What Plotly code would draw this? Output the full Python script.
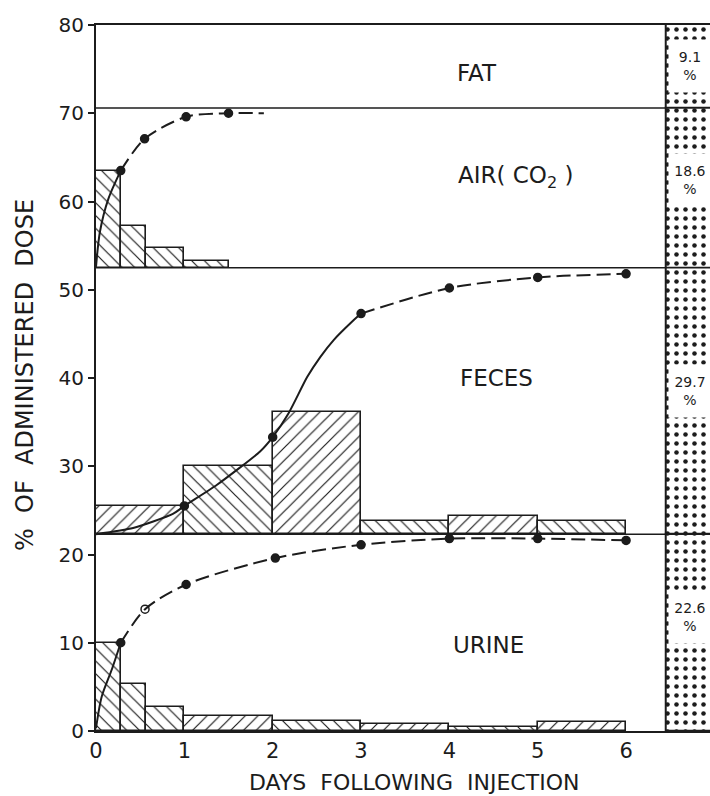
import plotly.graph_objects as go

# ---------------- data ----------------
day_ticks = [0, 1, 2, 3, 4, 5, 6]
dose_ticks = [0, 10, 20, 30, 40, 50, 60, 70, 80]

compartment_names = ["URINE", "FECES", "AIR( CO<sub>2</sub> )", "FAT"]
compartment_pct = ["22.6", "29.7", "18.6", "9.1"]
compartment_bounds = [0.0, 22.3, 52.5, 70.6, 80.0]

# URINE (relative to its band baseline)
urine_edges = [0, 0.28, 0.57, 1, 2, 3, 4, 5, 6]
urine_rate = [10.0, 5.3, 2.7, 1.7, 1.1, 0.85, 0.45, 1.0]
urine_cum_days = [0.28, 0.555, 1.02, 2.03, 3.0, 4.0, 5.0, 6.0]
urine_cum = [10.0, 13.8, 16.6, 19.6, 21.1, 21.8, 21.8, 21.6]
urine_rise_days = [0, 0.065, 0.18, 0.28]
urine_rise = [0.3, 3.9, 7.0, 10.0]

# FECES
feces_edges = [0, 1, 2, 3, 4, 5, 6]
feces_rate = [3.2, 7.7, 13.8, 1.5, 2.1, 1.5]
feces_cum_days = [1, 2, 3, 4, 5, 6]
feces_cum = [3.2, 11.0, 25.0, 27.9, 29.1, 29.5]
feces_rise_days = [0, 0.42, 0.87, 1.0, 1.37, 1.86, 2.0, 2.18, 2.39, 2.54, 2.69, 2.9, 3.0]
feces_rise = [0.0, 0.7, 2.3, 3.2, 5.6, 9.4, 11.0, 13.7, 17.8, 20.1, 22.0, 24.1, 25.0]

# AIR (CO2)
air_edges = [0, 0.28, 0.57, 1.0, 1.5]
air_rate = [11.0, 4.7, 2.2, 0.8]
air_cum_days = [0.28, 0.55, 1.02, 1.5]
air_cum = [11.0, 14.6, 17.1, 17.5]
air_rise_days = [0, 0.045, 0.14, 0.28]
air_rise = [0.1, 4.1, 7.8, 11.0]
air_tail_days = [1.5, 1.9]
air_tail = [17.5, 17.5]

# ---------------- styling ----------------
FONT = "DejaVu Sans"
INK = "#1c1c1c"
urine_hatch = ["\\", "\\", "\\", "/", "\\", "/", "\\", "/"]
feces_hatch = ["/", "\\", "/", "\\", "/", "\\"]
air_hatch = ["\\", "\\", "\\", "\\"]
urine_symbols = ["circle", "circle-open", "circle", "circle", "circle", "circle", "circle", "circle"]

x_max = 6.95
sep_x = 6.45

fig = go.Figure()


def hist(edges, rates, base, shapes):
    centers = [(a + b) / 2 for a, b in zip(edges[:-1], edges[1:])]
    widths = [b - a for a, b in zip(edges[:-1], edges[1:])]
    fig.add_trace(go.Bar(
        x=centers, y=rates, width=widths, base=base,
        marker=dict(color="white", line=dict(color=INK, width=1.6),
                    pattern=dict(shape=shapes, fgcolor=INK, bgcolor="white",
                                 size=9, solidity=0.13, fillmode="replace")),
        showlegend=False, hoverinfo="skip"))


def curve(xs, ys, base, dash, smoothing=0.8):
    fig.add_trace(go.Scatter(
        x=xs, y=[base + v for v in ys], mode="lines",
        line=dict(color=INK, width=2, shape="spline", smoothing=smoothing, dash=dash),
        showlegend=False, hoverinfo="skip"))


def points(xs, ys, base, symbols="circle"):
    fig.add_trace(go.Scatter(
        x=xs, y=[base + v for v in ys], mode="markers",
        marker=dict(size=8, color=INK, symbol=symbols, line=dict(color=INK, width=1.5)),
        showlegend=False, hoverinfo="skip"))


b_urine, b_feces, b_air, b_fat = compartment_bounds[:4]

# stippled summary column
fig.add_trace(go.Bar(
    x=[sep_x + 0.5] * 4,
    y=[compartment_bounds[i + 1] - compartment_bounds[i] for i in range(4)],
    base=compartment_bounds[:4], width=[1.0] * 4,
    marker=dict(color="white", line=dict(color=INK, width=1.2),
                pattern=dict(shape=".", fgcolor=INK, bgcolor="white",
                             size=9, solidity=0.2, fillmode="replace")),
    showlegend=False, hoverinfo="skip"))

hist(urine_edges, urine_rate, b_urine, urine_hatch)
hist(feces_edges, feces_rate, b_feces, feces_hatch)
hist(air_edges, air_rate, b_air, air_hatch)

curve(urine_rise_days, urine_rise, b_urine, "solid")
curve(urine_cum_days, urine_cum, b_urine, "14px,6px")
points(urine_cum_days, urine_cum, b_urine, urine_symbols)

curve(feces_rise_days, feces_rise, b_feces, "solid", smoothing=0.6)
curve(feces_cum_days[2:], feces_cum[2:], b_feces, "14px,6px")
points(feces_cum_days, feces_cum, b_feces)

curve(air_rise_days, air_rise, b_air, "solid")
curve(air_cum_days + air_tail_days[1:], air_cum + air_tail[1:], b_air, "14px,6px")
points(air_cum_days, air_cum, b_air)

shapes = []
for yb in compartment_bounds[1:4]:
    shapes.append(dict(type="line", xref="paper", x0=0, x1=1, yref="y", y0=yb, y1=yb,
                       line=dict(color=INK, width=1.6)))
shapes.append(dict(type="line", xref="x", x0=sep_x, x1=sep_x, yref="y", y0=0, y1=80,
                   line=dict(color=INK, width=1.8)))

annotations = []
label_pos = [(4.44, 9.8), (4.53, 40.0), (4.75, 62.8), (4.31, 74.6)]
for name, (lx, ly) in zip(compartment_names, label_pos):
    annotations.append(dict(x=lx, y=ly, xref="x", yref="y", text=name, showarrow=False,
                            xanchor="center", yanchor="middle",
                            font=dict(family=FONT, size=23, color=INK)))

pct_offsets = [1.8, 1.1, 0.9, 0.0]
for i, (pct, off) in enumerate(zip(compartment_pct, pct_offsets)):
    mid = (compartment_bounds[i] + compartment_bounds[i + 1]) / 2 + off
    annotations.append(dict(x=6.72, y=mid, xref="x", yref="y", text=pct + "<br>%",
                            showarrow=False, bgcolor="white", width=40, height=50,
                            align="center", xanchor="center", yanchor="middle",
                            font=dict(family=FONT, size=14, color=INK)))

annotations.append(dict(xref="paper", yref="paper", x=(25 - 96) / 614, y=(731 - 375) / 706,
                        xanchor="center", yanchor="middle",
                        text="%  OF  ADMINISTERED  DOSE", textangle=-90, showarrow=False,
                        font=dict(family=FONT, size=24, color=INK)))
annotations.append(dict(xref="paper", yref="paper", x=(414 - 96) / 614, y=(731 - 782) / 706,
                        xanchor="center", yanchor="middle",
                        text="DAYS  FOLLOWING  INJECTION", showarrow=False,
                        font=dict(family=FONT, size=22, color=INK)))

fig.update_layout(
    width=710, height=796,
    margin=dict(l=96, r=0, t=25, b=65),
    paper_bgcolor="white", plot_bgcolor="white",
    barmode="overlay", bargap=0,
    showlegend=False,
    shapes=shapes, annotations=annotations,
    xaxis=dict(range=[0, x_max], tickvals=day_ticks, ticktext=[str(d) for d in day_ticks],
               showgrid=False, zeroline=False, showline=True, linecolor=INK, linewidth=2,
               mirror=True, ticks="", tickfont=dict(family=FONT, size=21, color=INK)),
    yaxis=dict(range=[0, 80], tickvals=dose_ticks, showgrid=False, zeroline=False,
               showline=True, linecolor=INK, linewidth=2, mirror=False,
               ticks="outside", ticklen=6, tickwidth=1.5, tickcolor=INK,
               tickfont=dict(family=FONT, size=20, color=INK)),
)

fig.write_html("out.html")
